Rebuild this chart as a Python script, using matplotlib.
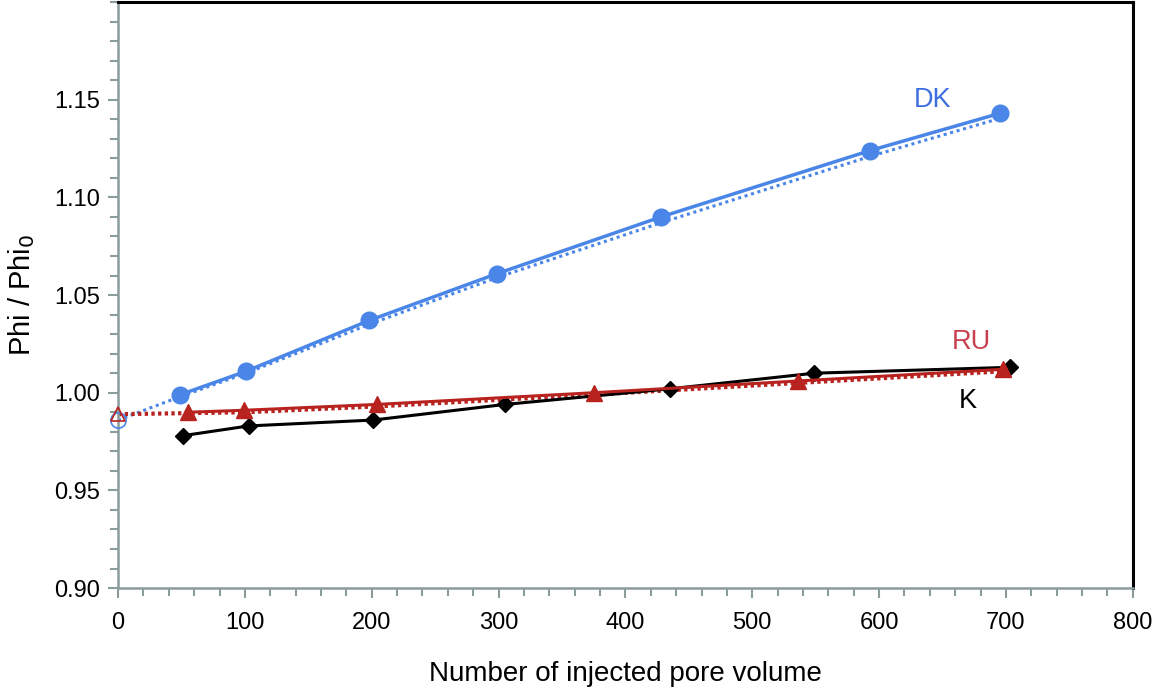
import numpy as np
import matplotlib.pyplot as plt
import matplotlib
from matplotlib.ticker import MultipleLocator, FormatStrFormatter, FixedLocator

matplotlib.rcParams['font.family'] = ['Liberation Sans', 'DejaVu Sans']

# data
dk_x = [49, 101, 198, 299, 428, 593, 695]
dk_y = [0.999, 1.011, 1.037, 1.061, 1.090, 1.124, 1.143]
ru_x = [55, 99, 204, 375, 536, 698]
ru_y = [0.990, 0.991, 0.994, 1.000, 1.006, 1.012]
k_x = [51, 103, 201, 305, 435, 549, 703]
k_y = [0.978, 0.983, 0.986, 0.994, 1.002, 1.010, 1.013]

# starting points (open markers)
dk_start = (0, 0.986)
ru_start = (0, 0.989)

# dotted trend lines
dk_trend_x = [0, 49, 101, 198, 299, 428, 593, 698]
dk_trend_y = [0.986, 0.998, 1.010, 1.035, 1.059, 1.087, 1.121, 1.141]
ru_trend_x = [0, 100, 204, 375, 536, 698]
ru_trend_y = [0.989, 0.990, 0.993, 0.999, 1.005, 1.011]

blue = '#4a86e8'
red = '#b8231f'
spine_grey = '#8a9c9c'

fig = plt.figure(figsize=(11.63, 6.91), dpi=100)
ax = fig.add_axes([0.1015, 0.149, 0.8725, 0.848])

# trend lines (dotted)
ax.plot(dk_trend_x, dk_trend_y, color=blue, linestyle=(0, (1, 1.2)), linewidth=2.2, zorder=2)
ax.plot(ru_trend_x, ru_trend_y, color=red, linestyle=(0, (0.8, 0.8)), linewidth=3.0, zorder=2)

# measured series
ax.plot(k_x, k_y, color='black', marker='D', markersize=8, linewidth=2.2, zorder=3)
ax.plot(ru_x, ru_y, color=red, marker='^', markersize=11, linewidth=2.2, zorder=4)
ax.plot(dk_x, dk_y, color=blue, marker='o', markersize=12, linewidth=2.5, zorder=5)

# open markers at zero
ax.plot(*dk_start, marker='o', markersize=11, markerfacecolor='none',
        markeredgecolor=blue, markeredgewidth=1.2, linestyle='none', zorder=6, clip_on=False)
ax.plot(*ru_start, marker='^', markersize=10, markerfacecolor='none',
        markeredgecolor=red, markeredgewidth=1.2, linestyle='none', zorder=6, clip_on=False)

# series labels
ax.text(642, 1.150, 'DK', color='#3d6fe0', fontsize=19.5, ha='center', va='center')
ax.text(673, 1.026, 'RU', color='#c8404f', fontsize=19.5, ha='center', va='center')
ax.text(670, 0.996, 'K', color='black', fontsize=19.5, ha='center', va='center')

ax.xaxis.set_major_locator(MultipleLocator(100))
ax.xaxis.set_minor_locator(MultipleLocator(20))
# 1.20 at the top has no label
ax.yaxis.set_major_locator(FixedLocator([0.90, 0.95, 1.00, 1.05, 1.10, 1.15]))
ax.yaxis.set_minor_locator(MultipleLocator(0.01))
ax.yaxis.set_major_formatter(FormatStrFormatter('%.2f'))
ax.set_xlim(0, 800)
ax.set_ylim(0.90, 1.20)

ax.tick_params(axis='both', which='both', direction='out', color=spine_grey,
               width=1.5, labelsize=17)
ax.tick_params(axis='both', which='major', length=7)
ax.tick_params(axis='both', which='minor', length=6)
ax.tick_params(axis='y', which='major', pad=6)
ax.tick_params(axis='x', which='major', pad=10)

ax.spines['left'].set_color(spine_grey)
ax.spines['bottom'].set_color(spine_grey)
ax.spines['left'].set_linewidth(1.8)
ax.spines['bottom'].set_linewidth(1.8)
ax.spines['top'].set_linewidth(2.2)
ax.spines['right'].set_linewidth(2.2)

ax.set_xlabel('Number of injected pore volume', fontsize=20, labelpad=20)
ax.set_ylabel('Phi / Phi$_0$', fontsize=21, labelpad=12)

fig.savefig('out.png', dpi=100)
